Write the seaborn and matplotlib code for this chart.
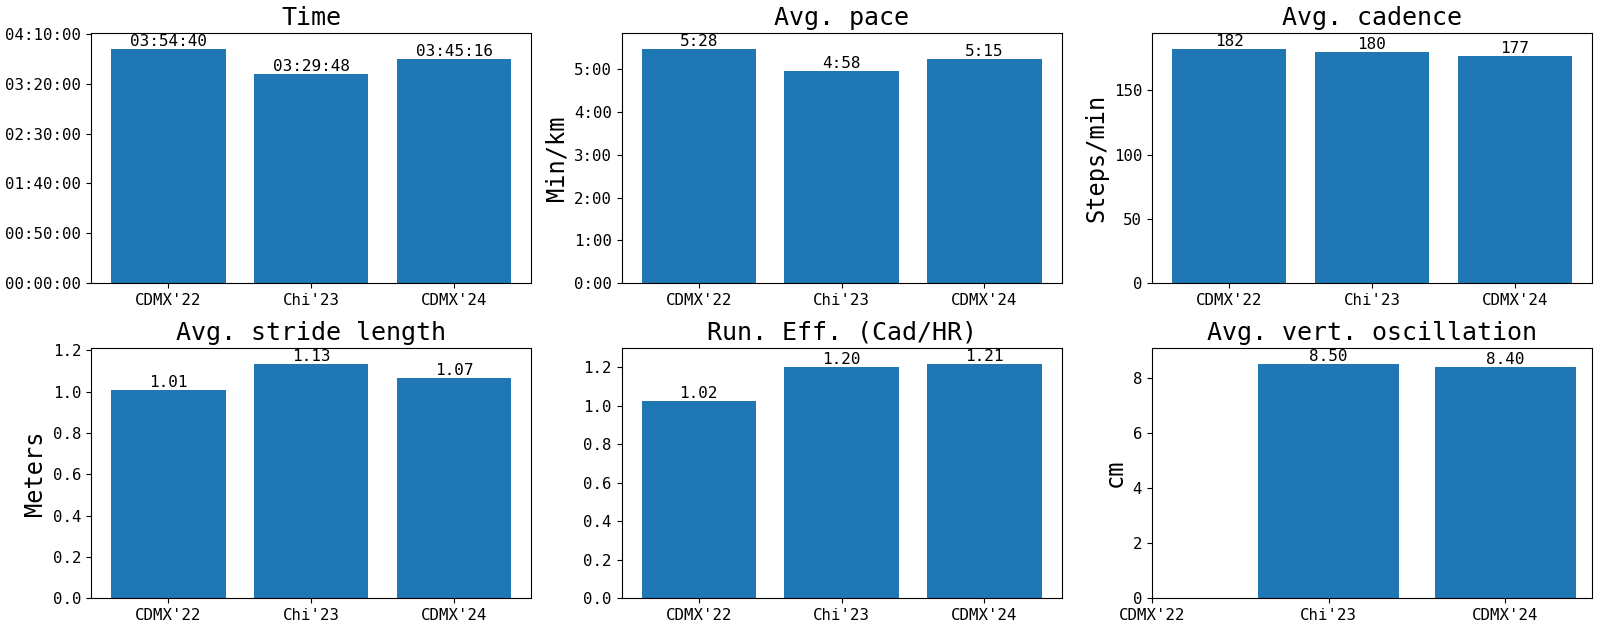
import numpy as np
import pandas as pd
import seaborn as sns
import matplotlib
matplotlib.use('Agg')
import matplotlib.pyplot as plt
from matplotlib import ticker

plt.rcParams['font.family'] = ['DejaVu Sans Mono', 'DejaVu Sans']

races = ["CDMX'22", "Chi'23", "CDMX'24"]

# race time in seconds (03:54:40, 03:29:48, 03:45:16)
time_s = [14080, 12588, 13516]
# pace in seconds per km (5:28, 4:58, 5:15)
pace_s = [328, 298, 315]
cadence = [182, 180, 177]
stride = [1.008, 1.131, 1.067]
run_eff = [1.024, 1.203, 1.214]
vert_osc = [np.nan, 8.50, 8.40]

BLUE = '#1f77b4'


def hms(v, pos=None):
    v = int(round(v))
    return '%02d:%02d:%02d' % (v // 3600, (v % 3600) // 60, v % 60)


def ms(v, pos=None):
    v = int(round(v))
    return '%d:%02d' % (v // 60, v % 60)


panels = [
    ('Time', None, time_s, hms),
    ('Avg. pace', 'Min/km', pace_s, ms),
    ('Avg. cadence', 'Steps/min', cadence, lambda v: '%d' % round(v)),
    ('Avg. stride length', 'Meters', stride, lambda v: '%.2f' % v),
    ('Run. Eff. (Cad/HR)', None, run_eff, lambda v: '%.2f' % v),
    ('Avg. vert. oscillation', 'cm', vert_osc, lambda v: '%.2f' % v),
]

fig, axes = plt.subplots(2, 3, figsize=(16, 6.29), dpi=100)
fig.subplots_adjust(left=0.057, right=0.995, bottom=0.049, top=0.9475,
                    wspace=0.205, hspace=0.26)

for ax, (title, ylab, vals, fmt) in zip(axes.flat, panels):
    df = pd.DataFrame({'race': races, 'value': vals})
    sns.barplot(data=df, x='race', y='value', order=races, ax=ax,
                color=BLUE, saturation=1, width=0.8, linewidth=0,
                errorbar=None)
    ax.bar_label(ax.containers[0], labels=[fmt(v) for v in df['value'].dropna()],
                 fontsize=11.5)
    ax.set_title(title, fontsize=18)
    ax.set_xlabel('')
    ax.set_ylabel(ylab if ylab else '', fontsize=17)
    ax.set_ylim(0, np.nanmax(vals) * 1.07)
    ax.set_xlim(-0.54, 2.54)
    ax.tick_params(labelsize=11.3)
    for s in ax.spines.values():
        s.set_visible(True)
        s.set_linewidth(0.8)
        s.set_color('black')

axes[0, 0].yaxis.set_major_locator(ticker.MultipleLocator(3000))
axes[0, 0].yaxis.set_major_formatter(ticker.FuncFormatter(hms))
axes[0, 1].yaxis.set_major_locator(ticker.MultipleLocator(60))
axes[0, 1].yaxis.set_major_formatter(ticker.FuncFormatter(ms))
axes[0, 2].yaxis.set_major_locator(ticker.MultipleLocator(50))
axes[1, 2].set_xlim(0, 2.49)

plt.savefig('out.png')
